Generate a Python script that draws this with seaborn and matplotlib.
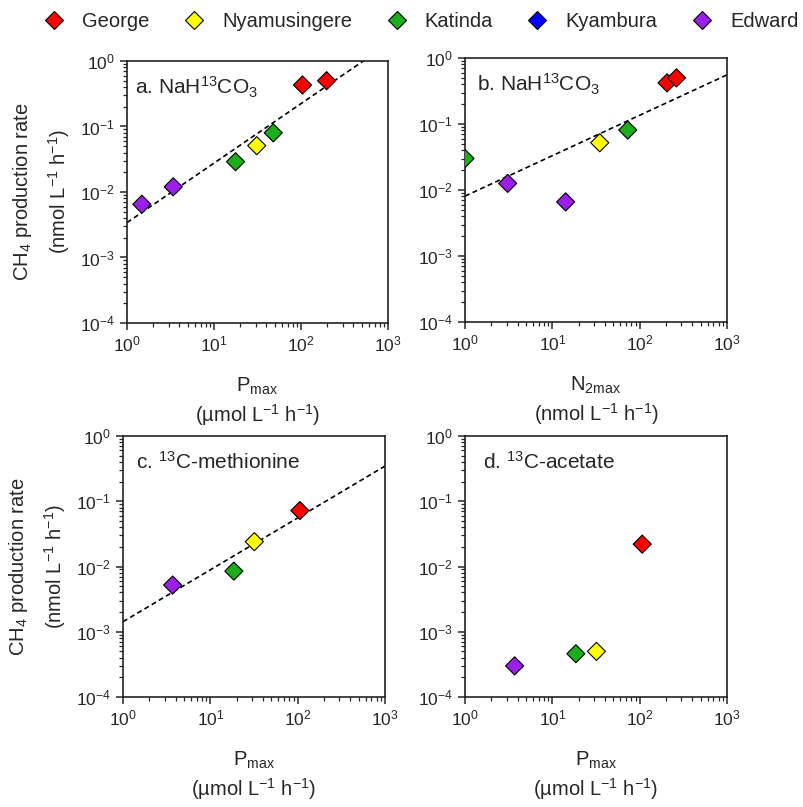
import numpy as np
import pandas as pd
import matplotlib
matplotlib.use("Agg")
import matplotlib.pyplot as plt
from matplotlib.lines import Line2D
from matplotlib.ticker import LogLocator, NullFormatter
import seaborn as sns

# Lakes and colours
sites = ["George", "Nyamusingere", "Katinda", "Kyambura", "Edward"]
colors = ["#ff0000", "#ffff00", "#1aae1a", "#0000ff", "#9b1fe8"]

# a. NaH13CO3 vs Pmax
a_site = ["Edward", "Edward", "Katinda", "Nyamusingere", "Katinda", "George", "George"]
a_x = [1.48, 3.4, 17.7, 31, 48, 104, 197]
a_y = [0.0065, 0.012, 0.029, 0.051, 0.080, 0.43, 0.50]

# b. NaH13CO3 vs N2max
b_site = ["Katinda", "Edward", "Edward", "Nyamusingere", "Katinda", "George", "George"]
b_x = [1.0, 3.08, 14.2, 34.9, 73, 206, 264]
b_y = [0.030, 0.0126, 0.0066, 0.052, 0.081, 0.42, 0.50]

# c. 13C-methionine vs Pmax
c_site = ["Edward", "Katinda", "Nyamusingere", "George"]
c_x = [3.7, 18.6, 31.9, 106]
c_y = [0.0052, 0.0085, 0.024, 0.072]

# d. 13C-acetate vs Pmax
d_site = ["Edward", "Katinda", "Nyamusingere", "George"]
d_x = [3.7, 18.6, 32, 107]
d_y = [0.00030, 0.00046, 0.00050, 0.022]

sns.set_style("ticks")
plt.rcParams["font.family"] = ["Liberation Sans", "DejaVu Sans"]
plt.rcParams["mathtext.fontset"] = "custom"
plt.rcParams["mathtext.rm"] = "Liberation Sans"
plt.rcParams["mathtext.it"] = "Liberation Sans:italic"
plt.rcParams["mathtext.bf"] = "Liberation Sans:bold"

palette = dict(zip(sites, colors))

fig = plt.figure(figsize=(8.04, 8.07), dpi=100)
W, H = 804, 807
# axes boxes in pixels: left, top, right, bottom
boxes = [(127, 61, 388, 323), (465, 58, 727, 322),
         (123, 436, 385, 697), (465, 436, 727, 697)]
axes = [fig.add_axes([l / W, 1 - b / H, (r - l) / W, (b - t) / H]) for l, t, r, b in boxes]

panels = [
    (a_site, a_x, a_y, "a. NaH$^{13}$CO$_3$", True, 0.03),
    (b_site, b_x, b_y, "b. NaH$^{13}$CO$_3$", True, 0.045),
    (c_site, c_x, c_y, "c. $^{13}$C-methionine", True, 0.05),
    (d_site, d_x, d_y, "d. $^{13}$C-acetate", False, 0.07),
]
xlabels = ["P$_{\\mathrm{max}}$\n(µmol L$^{-1}$ h$^{-1}$)",
           "N$_{\\mathrm{2max}}$\n(nmol L$^{-1}$ h$^{-1}$)",
           "P$_{\\mathrm{max}}$\n(µmol L$^{-1}$ h$^{-1}$)",
           "P$_{\\mathrm{max}}$\n(µmol L$^{-1}$ h$^{-1}$)"]

for i, (ax, (s, x, y, title, fit, tx)) in enumerate(zip(axes, panels)):
    df = pd.DataFrame({"site": s, "x": x, "y": y})
    ax.set_xscale("log")
    ax.set_yscale("log")
    if fit:
        # log-log least squares fit
        k, c0 = np.polyfit(np.log10(df["x"]), np.log10(df["y"]), 1)
        xf = np.logspace(0, 3, 100)
        sns.lineplot(x=xf, y=10 ** (c0 + k * np.log10(xf)), ax=ax, color="black",
                     lw=1.2, linestyle=(0, (3, 2)), zorder=1)
    sns.scatterplot(data=df, x="x", y="y", hue="site", palette=palette, marker="D",
                    s=85, edgecolor="black", linewidth=0.8, legend=False, ax=ax, zorder=3)
    ax.set_xlim(1, 1000)
    ax.set_ylim(1e-4, 1)
    ax.xaxis.set_major_locator(LogLocator(base=10, numticks=100))
    ax.yaxis.set_major_locator(LogLocator(base=10, numticks=100))
    ax.xaxis.set_minor_locator(LogLocator(base=10, subs=np.arange(2, 10), numticks=100))
    ax.yaxis.set_minor_locator(LogLocator(base=10, subs=np.arange(2, 10), numticks=100))
    ax.xaxis.set_minor_formatter(NullFormatter())
    ax.yaxis.set_minor_formatter(NullFormatter())
    ax.tick_params(which="major", length=5, width=1.1, labelsize=12.5, direction="out")
    ax.tick_params(which="minor", length=3, width=0.9, direction="out")
    for sp in ax.spines.values():
        sp.set_linewidth(1.2)
        sp.set_color("#222222")
    ax.text(tx, 0.9, title, transform=ax.transAxes, fontsize=15, va="center", ha="left")
    ax.set_xlabel(xlabels[i], fontsize=14.5, linespacing=1.25, labelpad=15)
    if i % 2 == 0:
        ax.set_ylabel("CH$_4$ production rate\n(nmol L$^{-1}$ h$^{-1}$)", fontsize=14.5,
                      linespacing=1.6, labelpad=6)
    else:
        ax.set_ylabel("")

handles = [Line2D([0], [0], marker="D", linestyle="none", markersize=9,
                  markerfacecolor=c, markeredgecolor="black", markeredgewidth=0.8)
           for c in colors]
fig.legend(handles, sites, loc="upper center", bbox_to_anchor=(0.524, 1.008), ncol=5,
           frameon=False, fontsize=14.5, handletextpad=0.9, columnspacing=1.7,
           handlelength=1.0)

fig.savefig("out.png", dpi=100)
